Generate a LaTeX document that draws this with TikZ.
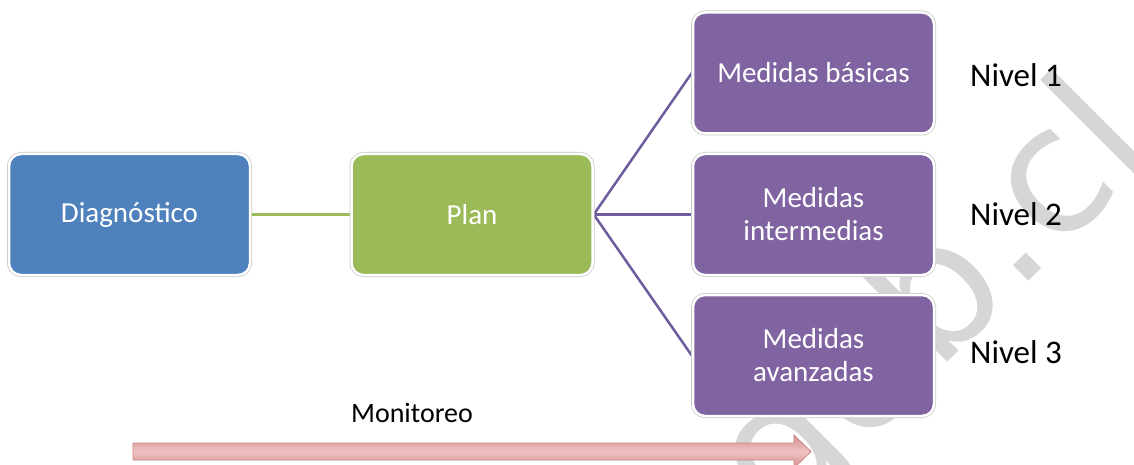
\documentclass[tikz,border=0pt]{standalone}
\usepackage{fontspec}
\setmainfont{Carlito}
\newfontfamily\wmfont{DejaVu Sans}
\usetikzlibrary{backgrounds}
\definecolor{boxblue}{HTML}{4F81BD}
\definecolor{boxgreen}{HTML}{9BBB59}
\definecolor{boxpurple}{HTML}{8064A2}
\definecolor{linkpurple}{HTML}{6E5C9C}
\definecolor{edgegray}{HTML}{C8C8C8}
\definecolor{wmgray}{HTML}{D6D6D6}
\definecolor{arrowlight}{HTML}{EEC4C3}
\definecolor{arrowdark}{HTML}{D58D8B}
\definecolor{arrowedge}{HTML}{C98684}
\begin{document}
\begin{tikzpicture}[x=1pt,y=-1pt,
  card/.style={rounded corners=12pt, minimum width=241pt, minimum height=121pt,
    inner sep=0pt, text=white, align=center,
    font=\fontsize{29}{33}\selectfont,
    draw=white, line width=2.5pt,
    preaction={draw=edgegray, line width=4pt}},
  level/.style={anchor=west, inner sep=0pt, font=\fontsize{33}{36}\selectfont},
  greenlink/.style={draw=boxgreen, line width=3pt},
  purplelink/.style={draw=linkpurple, line width=2.5pt}]
  \useasboundingbox (0,0) rectangle (1134,465);
  \clip (0,0) rectangle (1134,465);

  % boxes
  \node[card, fill=boxblue]   (diag) at (129.5,214.5) {Diagnóstico};
  \node[card, fill=boxgreen]  (plan) at (472,214.5)   {Plan};
  \node[card, fill=boxpurple] (m1)   at (813.5,73)    {Medidas básicas};
  \node[card, fill=boxpurple] (m2)   at (813.5,214.5) {Medidas\\intermedias};
  \node[card, fill=boxpurple] (m3)   at (813.5,355.5) {Medidas\\avanzadas};

  % level labels
  \node[level] (n1) at (970,75)  {Nivel 1};
  \node[level] (n2) at (970,214) {Nivel 2};
  \node[level] (n3) at (970,352) {Nivel 3};

  % monitoring arrow
  \node[font=\fontsize{28}{30}\selectfont, inner sep=0pt] (mon) at (412,413) {Monitoreo};
  \path[draw=arrowedge, line width=0.8pt,
        top color=arrowdark, bottom color=arrowdark, middle color=arrowlight]
    (133,443) -- (794,443) -- (794,435) -- (811,451.5) -- (794,468)
    -- (794,460) -- (133,460) -- cycle;

  \begin{scope}[on background layer]
    \fill[white] (0,0) rectangle (1134,465);
    % watermark
    \node[font=\wmfont\fontsize{176}{176}\selectfont, text=wmgray, rotate=45,
          anchor=base west, inner sep=0pt] (wm) at (781.6,529.2) {gob.cl};
    % connectors
    \draw[greenlink] (diag.east) -- (plan.west);
    \draw[purplelink] (plan.east) -- (m1.west);
    \draw[purplelink] (plan.east) -- (m2.west);
    \draw[purplelink] (plan.east) -- (m3.west);
  \end{scope}
\end{tikzpicture}
\end{document}
